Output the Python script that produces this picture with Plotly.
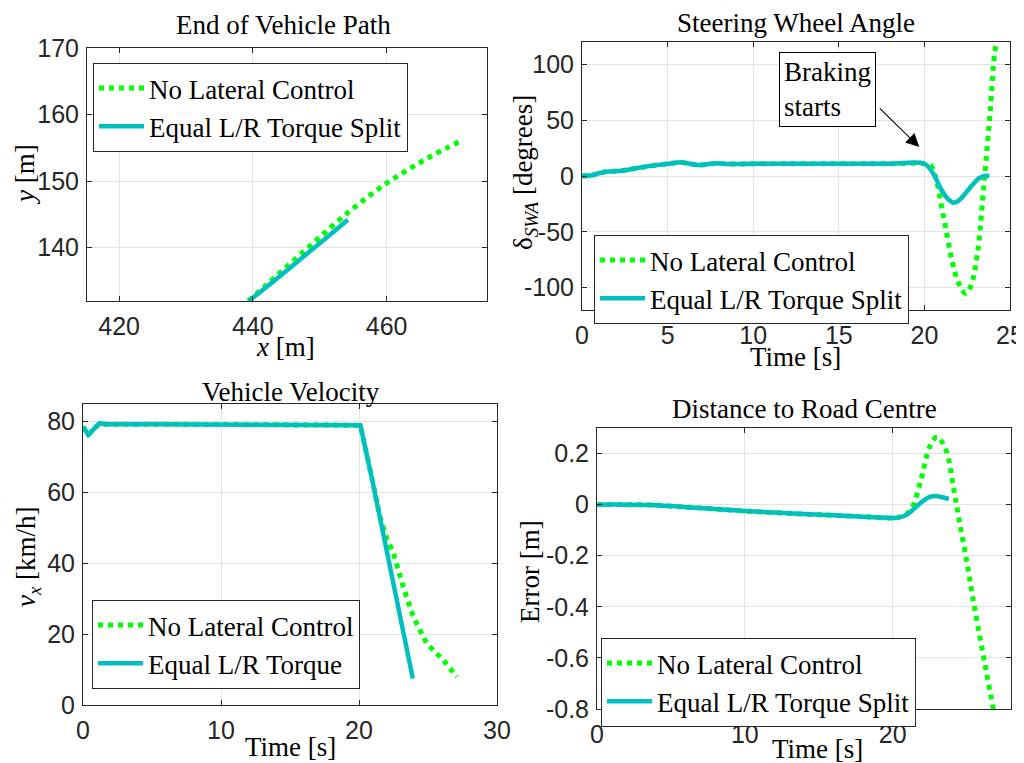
import plotly.graph_objects as go

# The page body adds an 8px margin, so the figure is sized to fill the rest of the window
OX, OY = 8, 8
W, H = 1016, 755
GREEN = "#00ff00"
CYAN = "#00bfbf"
SERIF = "'Liberation Serif', 'Times New Roman', Times, serif"
SANS = "'Liberation Sans', Arial, Helvetica, sans-serif"
FS = 27  # serif text size

# ---------------- data ----------------
# End of vehicle path
path_nolat_x = [439.3, 442.0, 445.0, 448.0, 451.0, 454.0, 457.0, 460.0, 463.0, 466.0, 469.0, 471.0]
path_nolat_y = [132.0, 134.4, 137.1, 139.8, 142.5, 145.1, 147.5, 149.7, 151.6, 153.4, 155.0, 156.0]
path_eq_x = [439.4, 443.0, 447.0, 451.0, 454.2]
path_eq_y = [132.0, 134.9, 138.2, 141.5, 144.2]

# Steering wheel angle
swa_eq_t = [0, 0.5, 1.0, 1.4, 2.3, 3.0, 3.7, 4.7, 5.3, 5.8, 6.3, 6.8, 7.8, 8.6, 10, 12, 14, 16, 18, 20.0,
            20.5, 21.0, 21.4, 21.7, 22.0, 22.4, 22.8, 23.2, 23.5, 23.8]
swa_eq_v = [0, 0.5, 2.5, 3.8, 4.7, 6.5, 8.3, 10.4, 11.5, 12.2, 11.0, 9.8, 11.3, 10.7, 11.0, 11.0, 11.0, 11.0, 11.0, 11.0,
            2.4, -12.5, -21.0, -24.0, -22.0, -15.5, -8.0, -2.0, 0.0, 0.0]
swa_nolat_t = [0, 0.5, 1.0, 1.4, 2.3, 3.0, 3.7, 4.7, 5.3, 5.8, 6.3, 6.8, 7.8, 8.6, 10, 12, 14, 16, 18, 20.0, 20.4,
               20.7, 21.0, 21.3, 21.6, 22.0, 22.4, 22.7, 23.1, 23.4, 23.6, 23.85, 24.1, 24.3]
swa_nolat_v = [0, 0.5, 2.5, 3.8, 4.7, 6.5, 8.3, 10.4, 11.5, 12.2, 11.0, 9.8, 11.3, 10.7, 11.0, 11.0, 11.0, 11.0, 11.0, 11.0, 9.0,
               -3.6, -27.0, -51.0, -75.0, -96.0, -105.0, -99.0, -69.0, -21.0, 14.0, 59.0, 109.6, 125.0]

# Vehicle velocity
vel_eq_t = [0, 0.38, 1.2, 1.6, 5, 10, 15, 20.0, 20.1, 21.0, 22.0, 23.0, 23.9]
vel_eq_v = [78.6, 76.3, 79.6, 79.3, 79.3, 79.3, 79.3, 79.3, 79.0, 62.8, 44.0, 25.5, 7.5]
vel_nolat_t = [0, 0.38, 1.2, 1.6, 5, 10, 15, 20.0, 20.1, 21.0, 21.5, 22.0, 22.5, 23.2, 23.94, 24.9, 26.1, 27.1]
vel_nolat_v = [78.6, 76.3, 79.6, 79.3, 79.3, 79.3, 79.3, 79.3, 79.0, 62.8, 53.4, 47.2, 42.8, 33.4, 24.9, 17.4, 12.7, 8.0]

# Distance to road centre
err_eq_t = [0, 2, 4, 6, 8, 10, 12, 14, 16, 18, 20.0, 20.4, 21.0, 21.5, 22.0, 22.5, 22.9, 23.3, 23.8]
err_eq_v = [0, 0, -0.002, -0.010, -0.017, -0.025, -0.031, -0.037, -0.042, -0.047, -0.052, -0.051, -0.038,
            -0.013, 0.012, 0.030, 0.034, 0.030, 0.022]
err_nolat_t = [0, 2, 4, 6, 8, 10, 12, 14, 16, 18, 20.0, 20.5, 21.2, 21.9, 22.5, 23.0, 23.6, 24.1, 24.5, 25.0,
               25.4, 25.9, 26.35, 26.8, 27.0]
err_nolat_v = [0, 0, -0.002, -0.010, -0.017, -0.025, -0.031, -0.037, -0.042, -0.047, -0.052, -0.048, -0.022,
               0.095, 0.226, 0.265, 0.213, 0.069, -0.062, -0.22, -0.36, -0.52, -0.66, -0.80, -0.87]

# ticks
p_xticks = [420, 440, 460]
p_yticks = [140, 150, 160, 170]
s_xticks = [0, 5, 10, 15, 20, 25]
s_yticks = [-100, -50, 0, 50, 100]
v_xticks = [0, 10, 20, 30]
v_yticks = [0, 20, 40, 60, 80]
e_xticks = [0, 10, 20]
e_yticks = [-0.8, -0.6, -0.4, -0.2, 0, 0.2]
e_yticklabels = ["-0.8", "-0.6", "-0.4", "-0.2", "0", "0.2"]

LEG1 = ["No Lateral Control", "Equal L/R Torque Split"]
LEG3 = ["No Lateral Control", "Equal L/R Torque"]

# ---------------- figure ----------------
fig = go.Figure()


def add_pair(xg, yg, xc, yc, names, xa, ya, legend, shape="linear"):
    fig.add_trace(go.Scatter(x=xg, y=yg, mode="lines", name=names[0], xaxis=xa, yaxis=ya, legend=legend,
                             line=dict(color=GREEN, width=5, dash="5px,5px", shape=shape)))
    fig.add_trace(go.Scatter(x=xc, y=yc, mode="lines", name=names[1], xaxis=xa, yaxis=ya, legend=legend,
                             line=dict(color=CYAN, width=4.5, shape=shape)))


add_pair(path_nolat_x, path_nolat_y, path_eq_x, path_eq_y, LEG1, "x", "y", "legend", "spline")
add_pair(swa_nolat_t, swa_nolat_v, swa_eq_t, swa_eq_v, LEG1, "x2", "y2", "legend2", "spline")
add_pair(vel_nolat_t, vel_nolat_v, vel_eq_t, vel_eq_v, LEG3, "x3", "y3", "legend3", "linear")
add_pair(err_nolat_t, err_nolat_v, err_eq_t, err_eq_v, LEG1, "x4", "y4", "legend4", "spline")


def ax_style(dom, rng, tickvals, anchor, ticktext=None, is_x=True):
    d = dict(domain=dom, range=rng, tickvals=tickvals, anchor=anchor,
             showline=True, linecolor="#262626", linewidth=1, mirror="ticks",
             ticks="inside", ticklen=5, tickcolor="#262626",
             showgrid=True, gridcolor="#e3e3e3", gridwidth=1, zeroline=False,
             tickfont=dict(family=SANS, size=25, color="#262626"),
             ticklabelstandoff=3 if is_x else 2, automargin=False)
    if ticktext is not None:
        d["ticktext"] = ticktext
    return d


def px(xp):
    return (xp - OX) / W


def py(yp):
    return 1 - (yp - OY) / H


fig.update_layout(
    xaxis=ax_style([px(87), px(487)], [415.2, 475], p_xticks, "y"),
    yaxis=ax_style([py(301), py(48)], [132, 170], p_yticks, "x", is_x=False),
    xaxis2=ax_style([px(582), px(1010)], [0, 25], s_xticks, "y2"),
    yaxis2=ax_style([py(310), py(42)], [-120, 120], s_yticks, "x2",
                    ticktext=[str(v) for v in s_yticks], is_x=False),
    xaxis3=ax_style([px(83), px(497)], [0, 30], v_xticks, "y3"),
    yaxis3=ax_style([py(705), py(404)], [0, 85], v_yticks, "x3", is_x=False),
    xaxis4=ax_style([px(597), px(1011)], [0, 28], e_xticks, "y4"),
    yaxis4=ax_style([py(709), py(428)], [-0.8, 0.3], e_yticks, "x4", ticktext=e_yticklabels, is_x=False),
)

leg_common = dict(bgcolor="white", bordercolor="#262626", borderwidth=1,
                  font=dict(family=SERIF, size=FS, color="black"),
                  xanchor="left", yanchor="top", tracegroupgap=0, itemwidth=45)
fig.update_layout(
    legend=dict(x=px(93), y=py(63), **leg_common),
    legend2=dict(x=px(594), y=py(235), **leg_common),
    legend3=dict(x=px(92), y=py(600), **leg_common),
    legend4=dict(x=px(601), y=py(638), **leg_common),
)

anns = []


def txt(text, xp, yp, size=FS, angle=0):
    anns.append(dict(text=text, x=px(xp), y=py(yp), xref="paper", yref="paper", showarrow=False,
                     xanchor="center", yanchor="middle", textangle=angle,
                     font=dict(family=SERIF, size=size, color="black")))


# titles
txt("End of Vehicle Path", 283.5, 25)
txt("Steering Wheel Angle", 796, 23)
txt("Vehicle Velocity", 291, 392)
txt("Distance to Road Centre", 804, 409)
# axis labels
txt("<i>x</i> [m]", 285, 347)
txt("<i>y</i> [m]", 25, 175, angle=-90)
txt("Time [s]", 795, 357)
txt("δ<sub><i>SWA</i></sub> [degrees]", 525, 173, angle=-90)
txt("Time [s]", 290, 747)
txt("<i>v<sub>x</sub></i> [km/h]", 28, 557, angle=-90)
txt("Time [s]", 817, 749)
txt("Error [m]", 530, 572, angle=-90)

# braking annotation
anns.append(dict(text="Braking<br>starts", x=px(827), y=py(89), xref="paper", yref="paper",
                 showarrow=False, xanchor="center", yanchor="middle", align="left",
                 bordercolor="black", borderwidth=1, borderpad=4, bgcolor="white",
                 font=dict(family=SERIF, size=FS, color="black")))
anns.append(dict(text="", x=19.7, y=26, xref="x2", yref="y2", showarrow=True,
                 ax=-41, ay=-40, axref="pixel", ayref="pixel",
                 arrowhead=2, arrowsize=2.4, arrowwidth=1.1, arrowcolor="black"))

fig.update_layout(annotations=anns, width=W, height=H,
                  margin=dict(l=0, r=0, t=0, b=0, autoexpand=False),
                  paper_bgcolor="white", plot_bgcolor="white", showlegend=True)

fig.write_html("out.html")
